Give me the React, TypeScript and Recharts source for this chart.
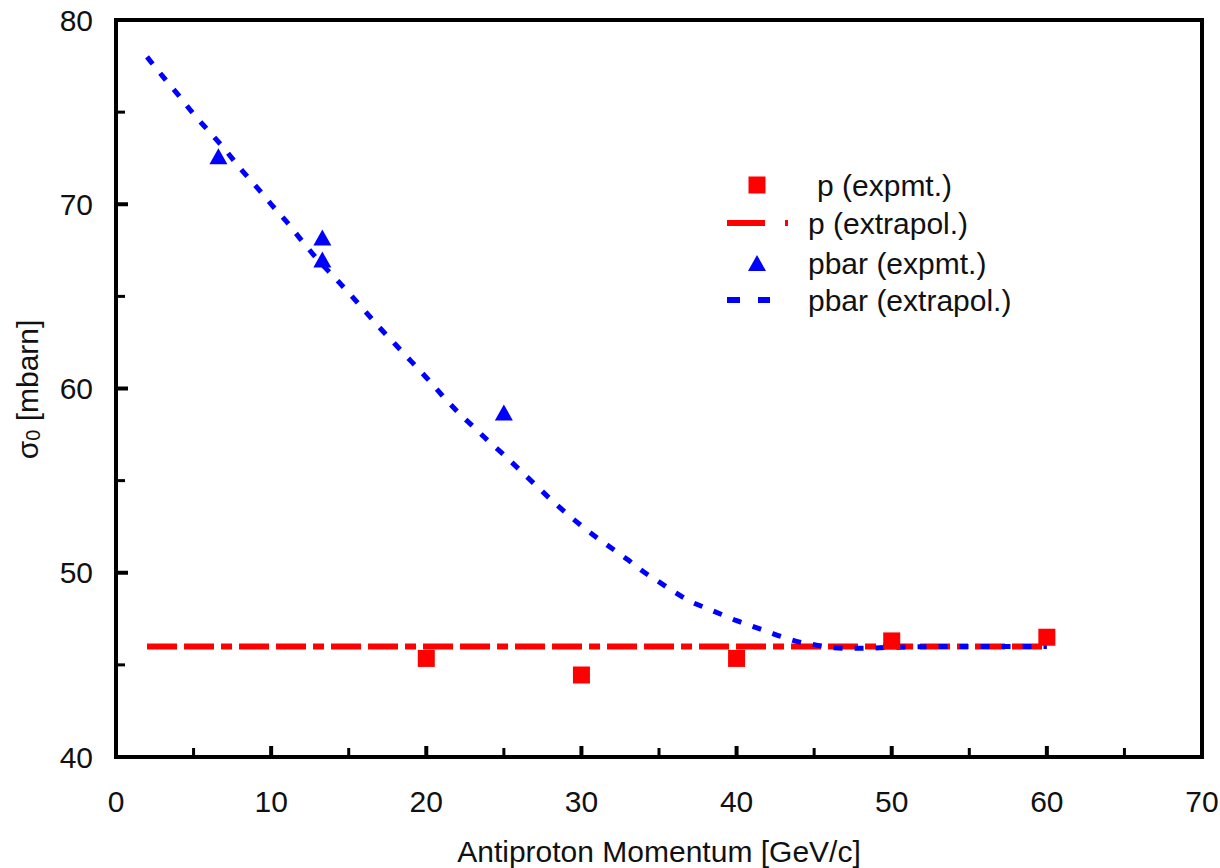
import React from 'react';
import { ComposedChart, Line, Scatter, XAxis, YAxis, ReferenceArea, Legend } from 'recharts';

// p (expmt.) - red squares
const pExpX = [20, 30, 40, 50, 60];
const pExpY = [45.35, 44.45, 45.35, 46.3, 46.5];

// p (extrapol.) - red dash-dot line
const pExtX = [2, 60];
const pExtY = [46, 46];

// pbar (expmt.) - blue triangles
const pbarExpX = [6.6, 13.3, 13.3, 25.0];
const pbarExpY = [72.6, 68.2, 67.0, 58.7];

// pbar (extrapol.) - blue dotted curve
const pbarExtX = [
  2, 3, 4, 5, 6, 7, 8, 9, 10, 11, 12, 13, 14, 15, 16, 17, 18, 19, 20, 21, 22, 23, 24, 25,
  26, 27, 28, 29, 30, 31, 32, 33, 34, 35, 36, 37, 38, 39, 40, 41, 42, 43, 44, 45, 46, 47, 48,
  50, 55, 60,
];
const pbarExtY = [
  78.0, 76.95, 75.95, 74.9, 73.95, 73.0, 71.95, 71.0, 70.0, 69.05, 68.0, 67.0, 66.1, 65.2,
  64.25, 63.3, 62.4, 61.5, 60.6, 59.65, 58.75, 57.95, 57.15, 56.4, 55.6, 54.8, 54.0, 53.25,
  52.55, 51.9, 51.3, 50.7, 50.05, 49.5, 48.95, 48.45, 48.1, 47.75, 47.4, 47.1, 46.8, 46.5,
  46.25, 46.1, 45.95, 45.9, 45.9, 45.95, 46.0, 46.0,
];

const xTicks = [0, 5, 10, 15, 20, 25, 30, 35, 40, 45, 50, 55, 60, 65, 70];
const yTicks = [40, 45, 50, 55, 60, 65, 70, 75, 80];

const seriesNames = ['p (expmt.)', 'p (extrapol.)', 'pbar (expmt.)', 'pbar (extrapol.)'];

const zip = (xs: number[], ys: number[]) => xs.map((x, i) => ({ x, y: ys[i] }));

const FONT = '"Liberation Sans", Arial, sans-serif';
const RED = '#ff0000';
const BLUE = '#0000ff';

const XTick = (props: any) => {
  const { x, y, payload } = props;
  const v = payload.value;
  const major = v % 10 === 0;
  return (
    <g>
      {v > 0 && v < 70 && (
        <line x1={x} x2={x} y1={y} y2={y - (major ? 11 : 9)} stroke="#000" strokeWidth={major ? 4 : 3} />
      )}
      {major && (
        <text x={x} y={y + 44} textAnchor="middle" dominantBaseline="central" fontSize={30} fontFamily={FONT} fill="#111">
          {v}
        </text>
      )}
    </g>
  );
};

const YTick = (props: any) => {
  const { x, y, payload } = props;
  const v = payload.value;
  const major = v % 10 === 0;
  return (
    <g>
      {v > 40 && v < 80 && (
        <line x1={x} x2={x + (major ? 12 : 9)} y1={y} y2={y} stroke="#000" strokeWidth={major ? 4 : 3} />
      )}
      {major && (
        <text x={x - 23} y={y} textAnchor="end" dominantBaseline="central" fontSize={30} fontFamily={FONT} fill="#111">
          {v}
        </text>
      )}
    </g>
  );
};

const Square = (props: any) => {
  const { cx, cy } = props;
  return <rect x={cx - 8.5} y={cy - 8.5} width={17} height={17} fill={RED} />;
};

const Triangle = (props: any) => {
  const { cx, cy } = props;
  return <path d={`M${cx},${cy - 8} L${cx + 9},${cy + 8} L${cx - 9},${cy + 8} Z`} fill={BLUE} />;
};

const legendIcon = (name: string) => {
  if (name === 'p (expmt.)') return <rect x={21.5} y={-8.5} width={17} height={17} fill={RED} />;
  if (name === 'p (extrapol.)')
    return <line x1={0} x2={61} y1={0} y2={0} stroke={RED} strokeWidth={6} strokeDasharray="38 20 3 100" />;
  if (name === 'pbar (expmt.)') return <path d="M30,-8 L39,8 L21,8 Z" fill={BLUE} />;
  return <line x1={0} x2={43} y1={0} y2={0} stroke={BLUE} strokeWidth={6} strokeDasharray="13 18" />;
};

const rowY = [15, 53, 93, 130];

const LegendBox = () => (
  <svg width={330} height={150} style={{ display: 'block' }}>
    {seriesNames.map((name, i) => (
      <g key={name} transform={`translate(0, ${rowY[i]})`}>
        {legendIcon(name)}
        <text
          x={i === 0 ? 90 : 81}
          y={0}
          dominantBaseline="central"
          fontSize={30}
          fontFamily={FONT}
          fill="#111"
        >
          {name}
        </text>
      </g>
    ))}
  </svg>
);

export default function App() {
  return (
    <div style={{ position: 'absolute', left: 0, top: 0, width: 1220, height: 868 }}>
      <ComposedChart width={1220} height={868} margin={{ top: 20, right: 18, bottom: 0, left: 0 }}>
        <XAxis
          type="number"
          dataKey="x"
          domain={[0, 70]}
          ticks={xTicks}
          interval={0}
          height={111}
          axisLine={false}
          tickLine={false}
          tickSize={0}
          tickMargin={0}
          tick={<XTick />}
          label={(p: any) => {
            const vb = p.viewBox;
            return (
              <text x={vb.x + vb.width / 2} y={vb.y + 105} textAnchor="middle" fontSize={30} fontFamily={FONT} fill="#111">
                Antiproton Momentum [GeV/c]
              </text>
            );
          }}
        />
        <YAxis
          type="number"
          dataKey="y"
          domain={[40, 80]}
          ticks={yTicks}
          interval={0}
          width={116}
          axisLine={false}
          tickLine={false}
          tickSize={0}
          tickMargin={0}
          tick={<YTick />}
          label={(p: any) => {
            const vb = p.viewBox;
            const cx = vb.x + 27;
            const cy = vb.y + vb.height / 2 + 1;
            return (
              <text
                x={cx}
                y={cy}
                transform={`rotate(-90, ${cx}, ${cy})`}
                textAnchor="middle"
                dominantBaseline="central"
                fontSize={30}
                fontFamily={FONT}
                fill="#111"
              >
                σ<tspan fontSize={20} dy={6}>0</tspan>
                <tspan dy={-6}> [mbarn]</tspan>
              </text>
            );
          }}
        />
        <ReferenceArea x1={0} x2={70} y1={40} y2={80} fill="none" fillOpacity={0} stroke="#000" strokeWidth={4} />
        <Line
          name="p (extrapol.)"
          data={zip(pExtX, pExtY)}
          dataKey="y"
          type="linear"
          stroke={RED}
          strokeWidth={6}
          strokeDasharray="30 7 30 7 11 7"
          dot={false}
          activeDot={false}
          isAnimationActive={false}
        />
        <Line
          name="pbar (extrapol.)"
          data={zip(pbarExtX, pbarExtY)}
          dataKey="y"
          type="monotone"
          stroke={BLUE}
          strokeWidth={5}
          strokeDasharray="9 12"
          dot={false}
          activeDot={false}
          isAnimationActive={false}
        />
        <Scatter name="p (expmt.)" data={zip(pExpX, pExpY)} fill={RED} shape={<Square />} isAnimationActive={false} />
        <Scatter name="pbar (expmt.)" data={zip(pbarExpX, pbarExpY)} fill={BLUE} shape={<Triangle />} isAnimationActive={false} />
        <Legend
          layout="vertical"
          align="center"
          verticalAlign="middle"
          wrapperStyle={{ left: 727, top: 170, width: 330 }}
          content={() => <LegendBox />}
        />
      </ComposedChart>
    </div>
  );
}
